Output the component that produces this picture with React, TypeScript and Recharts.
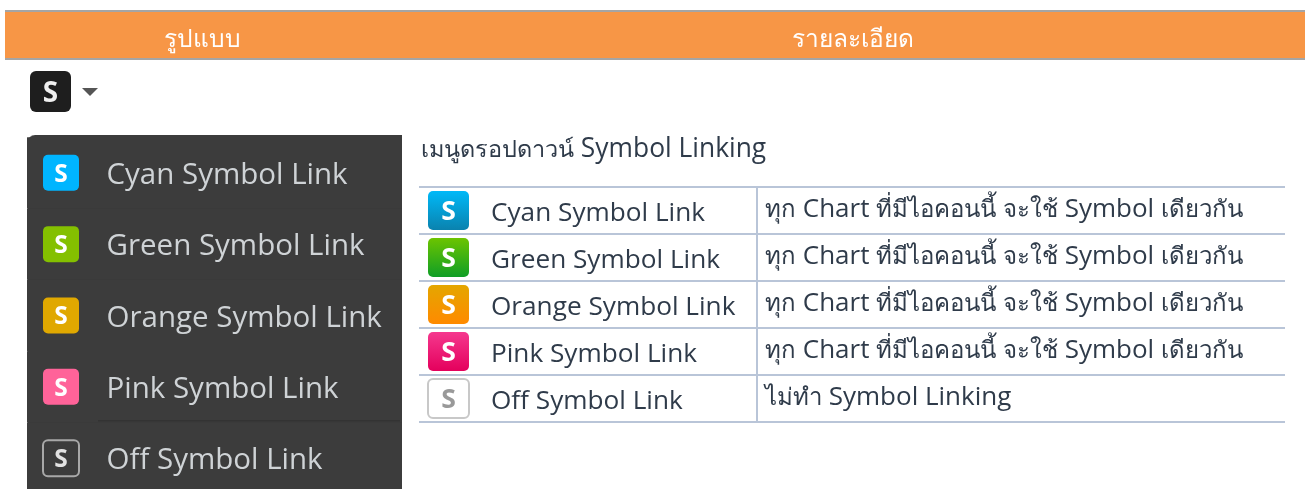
import { Bar, BarChart, LabelList, XAxis, YAxis } from "recharts"

const headers = ["รูปแบบ", "รายละเอียด"]
const menuTitle = "เมนูดรอปดาวน์ Symbol Linking"
const linkNames = ["Cyan Symbol Link", "Green Symbol Link", "Orange Symbol Link", "Pink Symbol Link", "Off Symbol Link"]
const linkNotes = [
  "ทุก Chart ที่มีไอคอนนี้ จะใช้ Symbol เดียวกัน",
  "ทุก Chart ที่มีไอคอนนี้ จะใช้ Symbol เดียวกัน",
  "ทุก Chart ที่มีไอคอนนี้ จะใช้ Symbol เดียวกัน",
  "ทุก Chart ที่มีไอคอนนี้ จะใช้ Symbol เดียวกัน",
  "ไม่ทำ Symbol Linking",
]
const rowValues = [1, 1, 1, 1, 1]

const menuColors = ["#00b5ff", "#84c000", "#e0a800", "#ff6399", "none"]
const tableTop = ["#00b9f8", "#6cc400", "#e4a600", "#f5388e", "#ffffff"]
const tableBottom = ["#0a82ae", "#0f9e26", "#ff8a00", "#e4005c", "#ffffff"]

const rows = linkNames.map((name, i) => ({ name, note: linkNotes[i], value: rowValues[i], index: i }))
const headerRow = [{ name: "header", left: 395, right: 905 }]

const FONT = "'Open Sans', 'Noto Sans', sans-serif"
const LINE = "#b9c5d8"
const INK = "#2f3b4a"

// Thai runs are set smaller than the latin words, like the original screenshot
function mixedRuns(text: string) {
  return text.match(/[\u0E00-\u0E7F]+|[^\u0E00-\u0E7F]+/g) || []
}
const isThai = (run: string) => /[\u0E00-\u0E7F]/.test(run)

function SIcon({ x, y, width, height, fill, stroke, color, radius = 5 }: any) {
  return (
    <g>
      <rect x={x} y={y} width={width} height={height} rx={radius} fill={fill} stroke={stroke || "none"} strokeWidth={stroke ? 2 : 0} />
      <text
        x={x + width / 2}
        y={y + height / 2}
        dy="0.36em"
        textAnchor="middle"
        fontFamily={FONT}
        fontWeight={700}
        fontSize={height * 0.68}
        fill={color}
      >
        S
      </text>
    </g>
  )
}

function MenuRow({ x, y, width, height, payload, index }: any) {
  const cy = y + height / 2
  const off = index === 4
  return (
    <g>
      <rect x={x} y={y} width={width} height={height} fill="#3c3c3c" />
      {off && <line x1={x + 71} x2={x + 373} y1={y - 2} y2={y - 2} stroke="#333333" strokeWidth={1.5} />}
      <SIcon
        x={x + 16}
        y={cy - 18}
        width={36}
        height={36}
        fill={menuColors[index]}
        stroke={off ? "#a8a8a8" : undefined}
        color={off ? "#e2e2e2" : "#ffffff"}
      />
      <text x={x + 79.5} y={cy + 0.5} dy="0.36em" fontFamily={FONT} fontSize={29.5} fill="#cfd3d6">
        {payload.name}
      </text>
    </g>
  )
}

function TableRow({ x, y, width, height, payload, index }: any) {
  const cy = y + height / 2
  const off = index === 4
  const splitX = x + 338
  const gradientId = `icon-${index}`
  return (
    <g>
      <defs>
        <linearGradient id={gradientId} x1="0" y1="0" x2="0" y2="1">
          <stop offset="0%" stopColor={tableTop[index]} />
          <stop offset="100%" stopColor={tableBottom[index]} />
        </linearGradient>
      </defs>
      <line x1={x} x2={x + width} y1={y + 1} y2={y + 1} stroke={LINE} strokeWidth={2} />
      {index === 4 && <line x1={x} x2={x + width} y1={y + height + 1} y2={y + height + 1} stroke={LINE} strokeWidth={2} />}
      <line x1={splitX} x2={splitX} y1={y} y2={y + height + 1} stroke={LINE} strokeWidth={2} />
      <SIcon
        x={x + 9}
        y={cy - 18.5}
        width={41}
        height={39}
        fill={off ? "#ffffff" : `url(#${gradientId})`}
        stroke={off ? "#c8c8c8" : undefined}
        color={off ? "#999999" : "#ffffff"}
      />
      <text x={x + 72} y={cy + 2} dy="0.36em" fontFamily={FONT} fontSize={26.2} fill={INK}>
        {payload.name}
      </text>
      <text x={x + 346} y={cy - 1.5} dy="0.36em" fontFamily={FONT} fontSize={26} fill={INK}>
        {mixedRuns(payload.note).map((run, i) => (
          <tspan key={i} fontSize={isThai(run) ? 24 : 26}>
            {run}
          </tspan>
        ))}
      </text>
    </g>
  )
}

export default function App() {
  return (
    <div style={{ position: "relative", width: 1307, height: 489, overflow: "hidden", background: "#ffffff", fontFamily: FONT, filter: "blur(0.4px)" }}>
      <style>{"body{margin:0}"}</style>

      <div style={{ position: "absolute", left: 5, top: 10, width: 1300, height: 50, background: "#a5a5a5" }} />
      <div style={{ position: "absolute", left: 5, top: 12 }}>
        <BarChart width={1300} height={46} data={headerRow} layout="vertical" margin={{ top: 0, right: 0, bottom: 0, left: 0 }} barCategoryGap={0}>
          <XAxis type="number" hide domain={[0, 1300]} />
          <YAxis type="category" dataKey="name" hide />
          <Bar dataKey="left" stackId="head" fill="#f79646" isAnimationActive={false}>
            <LabelList position="center" fill="#ffffff" fontSize={24.5} dy={3} fontFamily={FONT} valueAccessor={() => headers[0]} />
          </Bar>
          <Bar dataKey="right" stackId="head" fill="#f79646" isAnimationActive={false}>
            <LabelList position="center" fill="#ffffff" fontSize={24.5} dy={3} fontFamily={FONT} valueAccessor={() => headers[1]} />
          </Bar>
        </BarChart>
      </div>

      <svg style={{ position: "absolute", left: 0, top: 0 }} width={120} height={125}>
        <SIcon x={30} y={71} width={41} height={41} fill="#1e1e1e" color="#f0f0f0" radius={6} />
        <polygon points="82,88 98,88 90,96" fill="#555555" />
      </svg>

      <div style={{ position: "absolute", left: 27, top: 135, width: 375, height: 354, background: "#3c3c3c", borderTopLeftRadius: 8, borderLeft: "1px solid #9a9a9a", boxSizing: "border-box" }} />
      <div style={{ position: "absolute", left: 27, top: 135 }}>
        <BarChart width={375} height={359} data={rows} layout="vertical" margin={{ top: 2.3, right: 0, bottom: 0, left: 0 }} barCategoryGap={0}>
          <XAxis type="number" hide domain={[0, 1]} />
          <YAxis type="category" dataKey="name" hide />
          <Bar dataKey="value" shape={MenuRow} isAnimationActive={false} />
        </BarChart>
      </div>

      <div style={{ position: "absolute", left: 421, top: 129, fontSize: 26.4, lineHeight: "36px", color: INK, whiteSpace: "nowrap" }}>
        {mixedRuns(menuTitle).map((run, i) => (
          <span key={i} style={{ fontSize: isThai(run) ? 23.5 : 26.4 }}>
            {run}
          </span>
        ))}
      </div>

      <div style={{ position: "absolute", left: 419, top: 186 }}>
        <BarChart width={866} height={238} data={rows} layout="vertical" margin={{ top: 0, right: 0, bottom: 3, left: 0 }} barCategoryGap={0}>
          <XAxis type="number" hide domain={[0, 1]} />
          <YAxis type="category" dataKey="name" hide />
          <Bar dataKey="value" shape={TableRow} isAnimationActive={false} />
        </BarChart>
      </div>
    </div>
  )
}
